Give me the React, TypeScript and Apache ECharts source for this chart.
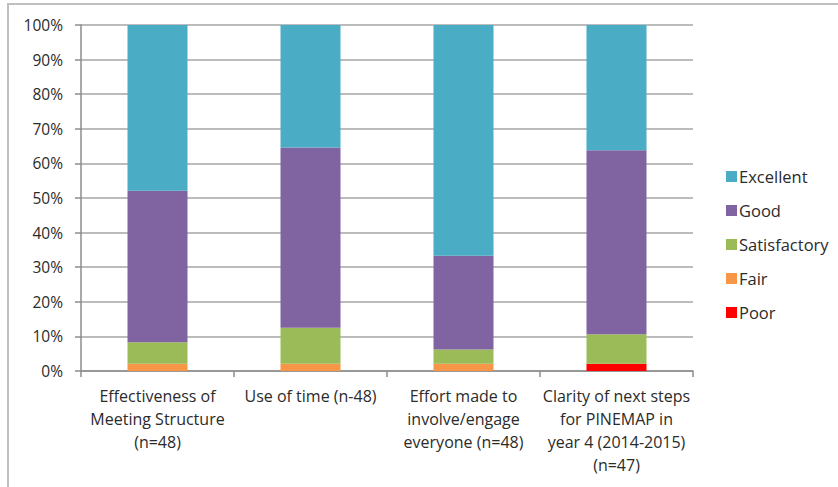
import React, { useEffect, useRef } from "react";
import * as echarts from "echarts";

const categories = [
  "Effectiveness of\nMeeting Structure\n(n=48)",
  "Use of time (n-48)",
  "Effort made to\ninvolve/engage\neveryone (n=48)",
  "Clarity of next steps\nfor PINEMAP in\nyear 4 (2014-2015)\n(n=47)",
];
const poor = [0, 0, 0, 2.13];
const fair = [2.08, 2.08, 2.08, 0];
const satisfactory = [6.25, 10.42, 4.17, 8.51];
const good = [43.75, 52.08, 27.08, 53.19];
const excellent = [47.92, 35.42, 66.67, 36.17];

const seriesDefs = [
  { name: "Poor", data: poor, color: "#FF0000" },
  { name: "Fair", data: fair, color: "#F79646" },
  { name: "Satisfactory", data: satisfactory, color: "#9BBB59" },
  { name: "Good", data: good, color: "#8064A2" },
  { name: "Excellent", data: excellent, color: "#4BACC6" },
];
const legendOrder = ["Excellent", "Good", "Satisfactory", "Fair", "Poor"];

const FONT = "'Open Sans', Lato, sans-serif";

export default function App() {
  const ref = useRef<HTMLDivElement>(null);
  useEffect(() => {
    if (!ref.current) return;
    const chart = echarts.init(ref.current, undefined, { renderer: "svg" });
    chart.setOption({
      animation: false,
      backgroundColor: "#ffffff",
      textStyle: { fontFamily: FONT },
      graphic: [
        {
          type: "rect",
          shape: { x: 8, y: 4, width: 900, height: 600 },
          style: { fill: "none", stroke: "#BFBFBF", lineWidth: 2 },
          silent: true,
        },
      ],
      grid: { left: 81, right: 145, top: 25, bottom: 116 },
      legend: {
        data: legendOrder,
        orient: "vertical",
        left: 721,
        top: 163,
        icon: "rect",
        itemWidth: 11,
        itemHeight: 11,
        itemGap: 17,
        textStyle: {
          fontFamily: FONT,
          fontSize: 16.5,
          color: "#2b2b2b",
          lineHeight: 16,
          padding: [0, 0, 0, -3],
        },
      },
      xAxis: {
        type: "category",
        data: categories,
        axisLine: { show: true, lineStyle: { color: "#8C8C8C", width: 1.5 } },
        axisTick: { show: true, length: 6, alignWithLabel: false, lineStyle: { color: "#8C8C8C", width: 1.5 } },
        axisLabel: {
          interval: 0,
          margin: 13,
          fontFamily: FONT,
          fontSize: 16,
          lineHeight: 23,
          color: "#2b2b2b",
          align: "center",
        },
      },
      yAxis: {
        type: "value",
        min: 0,
        max: 100,
        interval: 10,
        axisLine: { show: true, lineStyle: { color: "#8C8C8C", width: 1.5 } },
        axisTick: { show: true, length: 6, lineStyle: { color: "#8C8C8C", width: 1.5 } },
        splitLine: { show: true, lineStyle: { color: "#A6A6A6", width: 1.5 } },
        axisLabel: {
          formatter: "{value}%",
          margin: 18,
          fontFamily: FONT,
          fontSize: 15.5,
          color: "#2b2b2b",
        },
      },
      series: seriesDefs.map((s) => ({
        name: s.name,
        type: "bar",
        stack: "total",
        barWidth: 60,
        data: s.data,
        itemStyle: { color: s.color },
      })),
    });
    return () => chart.dispose();
  }, []);
  return (
    <div
      ref={ref}
      style={{ position: "absolute", left: 0, top: 0, width: 838, height: 487 }}
    />
  );
}
